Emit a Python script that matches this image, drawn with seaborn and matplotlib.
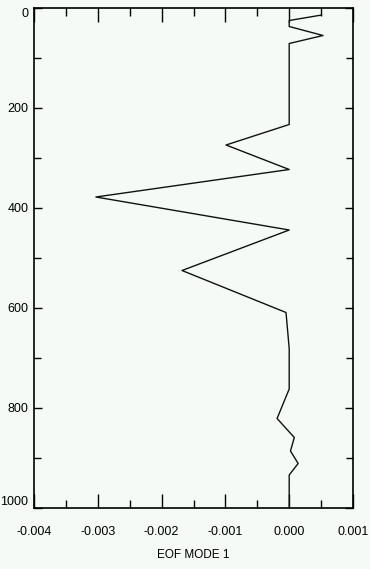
import matplotlib
matplotlib.use("Agg")
import matplotlib.pyplot as plt
import seaborn as sns
import pandas as pd
from matplotlib.ticker import MultipleLocator

depth = [14, 25, 37, 55, 71, 233, 274, 323, 378, 444, 525, 609, 681, 762, 821, 859, 886, 911, 934, 1000]
eof1 = [0.00051, 0.0, 0.0, 0.00053, 0.0, 0.0, -0.00099, 0.0, -0.00303, 0.0, -0.00168, -0.00005,
        0.0, 0.0, -0.00019, 0.00008, 0.00002, 0.00014, 0.0, 0.0]
xticks = [-0.004, -0.003, -0.002, -0.001, 0.000, 0.001]
xticklabels = ["-0.004", "-0.003", "-0.002", "-0.001", "0.000", "0.001"]
yticks = [0, 200, 400, 600, 800, 1000]

sns.set_style("ticks")
plt.rcParams['font.family'] = ['Liberation Sans', 'DejaVu Sans']

bg = '#f5faf7'
fig = plt.figure(figsize=(3.70, 5.69), dpi=100, facecolor=bg)
ax = fig.add_axes([34/370, 1-508/569, 319/370, 500/569])
ax.set_facecolor(bg)

df = pd.DataFrame({"depth": depth, "eof": eof1})
sns.lineplot(data=df, x="eof", y="depth", sort=False, estimator=None, color="#111111",
             linewidth=1.0, ax=ax)

ax.set_xlim(-0.004, 0.001)
ax.set_ylim(1000, 0)
ax.set_xticks(xticks)
ax.set_xticklabels(xticklabels)
ax.set_yticks(yticks)
ax.set_yticklabels([str(t) for t in yticks])
ax.xaxis.set_minor_locator(MultipleLocator(0.0005))
ax.yaxis.set_minor_locator(MultipleLocator(100))
ax.tick_params(which='both', direction='in', top=True, right=True, color='black', width=1,
               labelsize=9, labelcolor='black')
ax.tick_params(axis='x', which='major', length=10, pad=13)
ax.tick_params(axis='x', which='minor', length=6)
ax.tick_params(axis='y', which='major', length=6, pad=4)
ax.tick_params(axis='y', which='minor', length=5)
for s in ax.spines.values():
    s.set_color('black')
    s.set_linewidth(1.2)

ylabs = ax.get_yticklabels()
ylabs[0].set_va('top')
ylabs[-1].set_va('bottom')

ax.set_xlabel("EOF MODE 1", fontsize=8.5, labelpad=8, color='black')
ax.set_ylabel("")

fig.savefig("out.png", dpi=100, facecolor=bg)
